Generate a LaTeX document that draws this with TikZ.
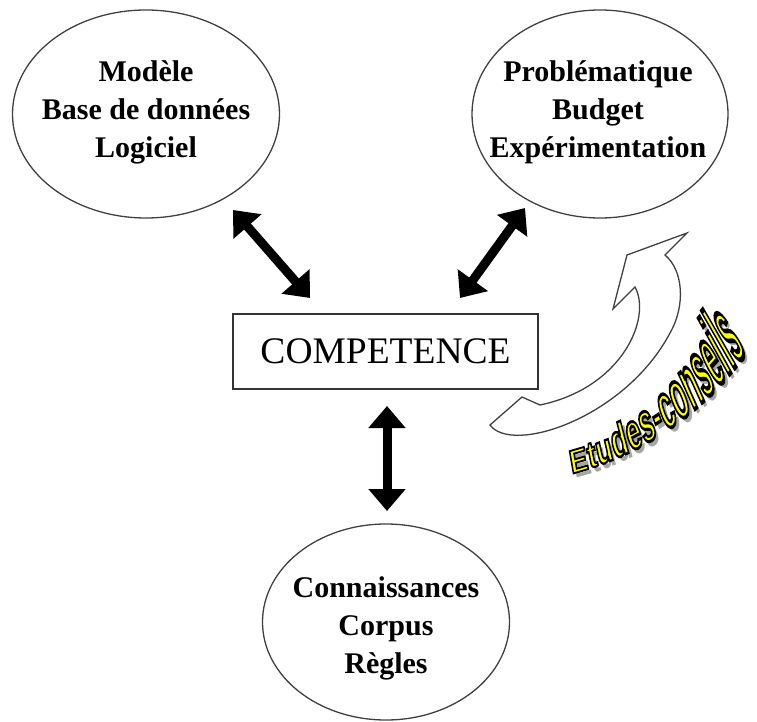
\documentclass[tikz,border=0pt]{standalone}
\usepackage{fontspec}
\setmainfont{Liberation Serif}
\newfontfamily\wafont{Liberation Sans}
\usetikzlibrary{arrows.meta,shapes.geometric}
\newcommand{\outlinedyellow}[1]{\special{pdf:literal direct 0 0 0 RG 1 1 0 rg 2 Tr 1.7 w}#1\special{pdf:literal direct 0 Tr}}
\begin{document}
\begin{tikzpicture}[x=1pt,y=-1pt,
  bubble/.style={draw=black!75, line width=1.3pt, ellipse, inner sep=0pt},
  bubtext/.style={font=\fontsize{30}{38}\selectfont\bfseries, align=center, inner sep=0pt},
  dblarrow/.style={line width=9pt, {Triangle[width=36pt,length=22pt]}-{Triangle[width=36pt,length=22pt]}},
  compbox/.style={draw=black!80, line width=1.6pt, minimum width=305pt, minimum height=75pt, font=\fontsize{37.5}{40}\selectfont},
  hollow/.style={draw=black!75, line width=1.3pt, line join=miter},
  waletter/.style={anchor=base, inner sep=0pt, font=\wafont\bfseries\fontsize{30}{32}\selectfont},
]
\useasboundingbox (0,0) rectangle (757,722);

% ellipses
\node[bubble, minimum width=267pt, minimum height=208pt] (m) at (146,114) {};
\node[bubtext] (mt) at (146,112) {Modèle\\Base de données\\Logiciel};
\node[bubble, minimum width=256pt, minimum height=208pt] (p) at (600,114) {};
\node[bubtext] (pt) at (598,112) {Problématique\\Budget\\Expérimentation};
\node[bubble, minimum width=247pt, minimum height=196pt] (k) at (386,622) {};
\node[bubtext] (kt) at (386,628) {Connaissances\\Corpus\\Règles};

% central box
\node[compbox] (comp) at (385.5,351.5) {COMPETENCE};

% double arrows
\coordinate (a1) at (233,210);
\coordinate (a2) at (310,298);
\coordinate (a3) at (525,208);
\coordinate (a4) at (460,298);
\coordinate (a5) at (387,406);
\coordinate (a6) at (387,511);
\draw[dblarrow] (a1) -- (a2);
\draw[dblarrow] (a3) -- (a4);
\draw[dblarrow] (a5) -- (a6);

% hollow curved arrow
\coordinate (ht) at (687,233);
\coordinate (ha) at (627,255);
\coordinate (hb) at (613,309);
\coordinate (hn) at (635,287);
\coordinate (hi) at (540,405);
\coordinate (hj) at (522,397);
\coordinate (hl) at (490,425);
\coordinate (ho) at (670,333);
\coordinate (hr) at (665,255);
\draw[hollow] (ht) -- (ha) -- (hb) -- (hn)
  .. controls (652,318) and (622,388) .. (hi) -- (hj) -- (hl)
  .. controls (512,455) and (625,418) .. (ho)
  .. controls (686,305) and (683,270) .. (hr) -- cycle;

% word-art text along an arc (centre (493,175), radius 309), letters growing and leaning
\foreach \ch/\d in {E/9.5, t/23.8, u/37.2, d/54.6, e/71.3, s/87.1, -/99.8, c/112.4, o/129.1, n/146.5, s/163.1, e/179.0, i/190.8, l/198.8, s/210.6}{
  \pgfmathsetmacro\ph{-75.3+0.1854*\d}
  \pgfmathsetmacro\ys{1.0+0.009*\d}
  \pgfmathsetmacro\sl{0.1+0.0015*\d}
  \node[waletter, text=black!35, rotate=\ph+90, xslant=\sl] at ({497+309*cos(\ph)},{180-309*sin(\ph)}) {\scalebox{0.92}[\ys]{\ch}};
}
\foreach \ch/\d in {E/9.5, t/23.8, u/37.2, d/54.6, e/71.3, s/87.1, -/99.8, c/112.4, o/129.1, n/146.5, s/163.1, e/179.0, i/190.8, l/198.8, s/210.6}{
  \pgfmathsetmacro\ph{-75.3+0.1854*\d}
  \pgfmathsetmacro\ys{1.0+0.009*\d}
  \pgfmathsetmacro\sl{0.1+0.0015*\d}
  \node[waletter, rotate=\ph+90, xslant=\sl] at ({493+309*cos(\ph)},{175-309*sin(\ph)}) {\scalebox{0.92}[\ys]{\outlinedyellow{\ch}}};
}
\end{tikzpicture}
\end{document}
